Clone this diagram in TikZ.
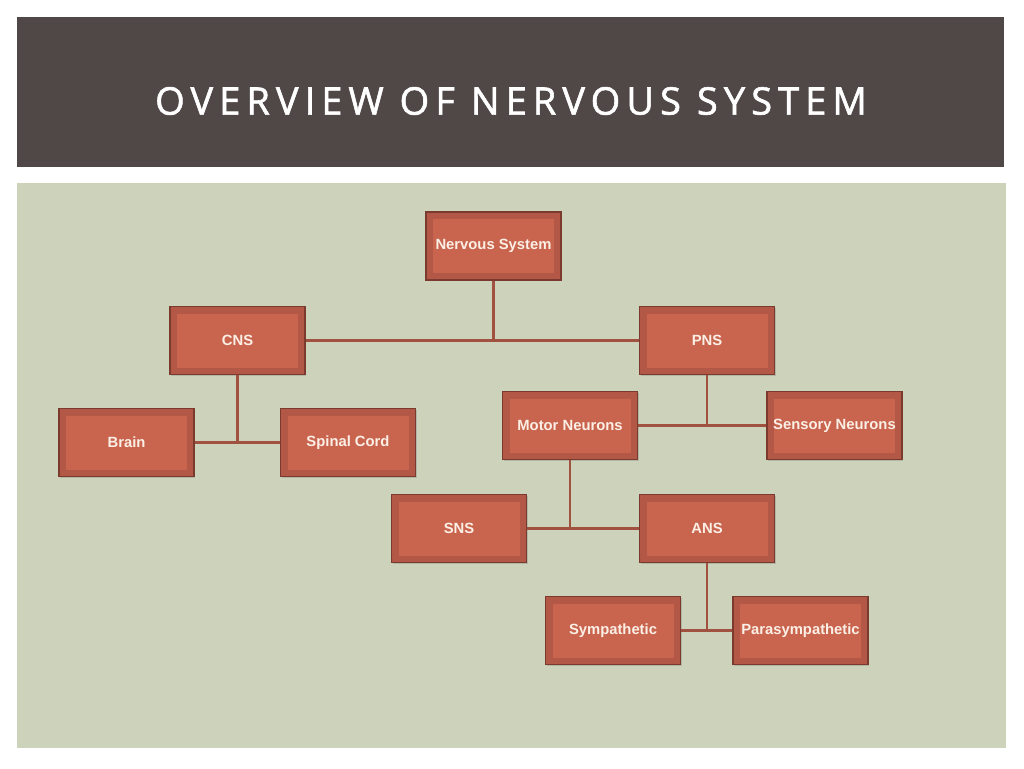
\documentclass[tikz,border=0pt]{standalone}
\usepackage{fontspec}
\setmainfont{Liberation Sans}
\newfontfamily\titlefont[LetterSpace=16,FakeBold=1.5]{Open Sans}
\usetikzlibrary{shadows}
\definecolor{hdr}{HTML}{504847}
\definecolor{panel}{HTML}{CDD3BA}
\definecolor{bout}{HTML}{B35846}
\definecolor{bin}{HTML}{C9654F}
\definecolor{bdr}{HTML}{7A3A2E}
\definecolor{wire}{HTML}{A0513F}
\definecolor{btxt}{HTML}{FBEFE6}
\tikzset{
  orgbox/.style={draw=bdr, line width=1.2pt, fill=bout, minimum width=135pt, minimum height=68pt,
    inner sep=0pt, text=btxt, font=\fontsize{14.8}{16}\selectfont\bfseries,
    drop shadow={shadow xshift=1.2pt, shadow yshift=-1.2pt, opacity=0.35},
    path picture={\fill[bin] ([xshift=7pt,yshift=-7pt]path picture bounding box.north west) rectangle ([xshift=-7pt,yshift=7pt]path picture bounding box.south east);}},
  wireline/.style={draw=wire, line width=2.2pt}
}
\begin{document}
\begin{tikzpicture}[x=1pt,y=-1pt]
\useasboundingbox (0,0) rectangle (1024,768);
\fill[white] (0,0) rectangle (1024,768);
\fill[hdr] (17,17) rectangle (1004,167);
\fill[panel] (17,183) rectangle (1006,748);
\node[text=white, font=\titlefont\fontsize{38}{42}\selectfont] (title) at (511,101) {OVERVIEW OF NERVOUS SYSTEM};
\node[orgbox] (ns) at (493.5,246) {\raisebox{-1.5pt}{Nervous System}};
\node[orgbox] (cns) at (237.5,340.5) {\raisebox{-1pt}{CNS}};
\node[orgbox] (pns) at (707,340.5) {\raisebox{-1pt}{PNS}};
\node[orgbox] (brain) at (126.5,442.5) {\raisebox{-1pt}{Brain}};
\node[orgbox] (spinal) at (348,442.5) {\raisebox{-1pt}{Spinal Cord}};
\node[orgbox] (motor) at (570,425.5) {\raisebox{-1pt}{Motor Neurons}};
\node[orgbox] (sensory) at (834.5,425.5) {\raisebox{-1pt}{Sensory Neurons}};
\node[orgbox] (sns) at (459,528.5) {\raisebox{-1pt}{SNS}};
\node[orgbox] (ans) at (707,528.5) {\raisebox{-1pt}{ANS}};
\node[orgbox] (symp) at (613,630.5) {\raisebox{-1pt}{Sympathetic}};
\node[orgbox] (para) at (800.5,630.5) {\raisebox{-1pt}{Parasympathetic}};
\draw[wireline] (cns.east) -- (pns.west);
\draw[wireline] (ns.south) -- (ns.south |- cns.east);
\draw[wireline] (brain.east) -- (spinal.west);
\draw[wireline] (cns.south) -- (cns.south |- brain.east);
\draw[wireline] (motor.east) -- (sensory.west);
\draw[wireline] (pns.south) -- (pns.south |- motor.east);
\draw[wireline] (sns.east) -- (ans.west);
\draw[wireline] (motor.south) -- (motor.south |- sns.east);
\draw[wireline] (symp.east) -- (para.west);
\draw[wireline] (ans.south) -- (ans.south |- symp.east);
\end{tikzpicture}
\end{document}
